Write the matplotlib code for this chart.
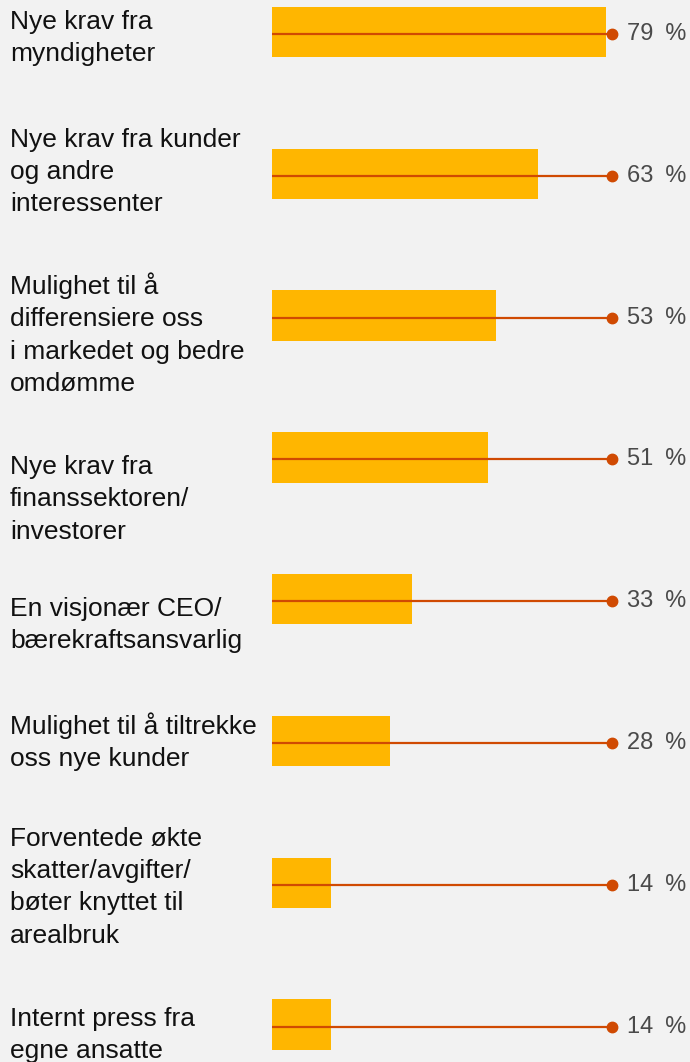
import matplotlib
matplotlib.use("Agg")
import matplotlib.pyplot as plt

categories = [
    "Nye krav fra\nmyndigheter",
    "Nye krav fra kunder\nog andre\ninteressenter",
    "Mulighet til å\ndifferensiere oss\ni markedet og bedre\nomdømme",
    "Nye krav fra\nfinanssektoren/\ninvestorer",
    "En visjonær CEO/\nbærekraftsansvarlig",
    "Mulighet til å tiltrekke\noss nye kunder",
    "Forventede økte\nskatter/avgifter/\nbøter knyttet til\narealbruk",
    "Internt press fra\negne ansatte",
]
values = [79, 63, 53, 51, 33, 28, 14, 14]
value_labels = ["79 %", "63 %", "53 %", "51 %", "33 %", "28 %", "14 %", "14 %"]

# style / layout
BG = "#F2F2F2"
BAR = "#FFB600"
LINE = "#D04A02"
line_end = 80.4
label_dy_px = [6, -2, 18.5, 42, 26, 1, 4.5, 10.5]

plt.rcParams["font.family"] = ["Liberation Sans", "DejaVu Sans"]

fig = plt.figure(figsize=(6.9, 10.62), dpi=100, facecolor=BG)
ax = fig.add_axes([0, 0, 1, 1], facecolor=BG)

px_per_unit = 4.23
x0 = 272
ax.set_xlim(-x0 / px_per_unit, (690 - x0) / px_per_unit)
step = 141.8
top = 32
ax.set_ylim((1062 - top) / step, -top / step)
ax.axis("off")

ys = list(range(len(values)))
ax.barh(ys, values, height=0.355, color=BAR, left=0)
for y, v, lab, dy, cat in zip(ys, values, value_labels, label_dy_px, categories):
    ly = y + 2 / step
    ax.plot([0, line_end], [ly, ly], color=LINE, lw=1.6, solid_capstyle="butt")
    ax.plot([line_end], [ly], "o", color=LINE, ms=7.5)
    ax.annotate(lab.replace(" ", "\u2002"), (line_end, ly), xytext=(10.5, 0),
                textcoords="offset points",
                va="center", ha="left", fontsize=17, color="#4a4a4a")
    ax.text(-262 / px_per_unit, y + dy / step, cat, va="center", ha="left",
            fontsize=19, color="#111111", linespacing=1.43)

fig.savefig("out.png", dpi=100, facecolor=BG)
